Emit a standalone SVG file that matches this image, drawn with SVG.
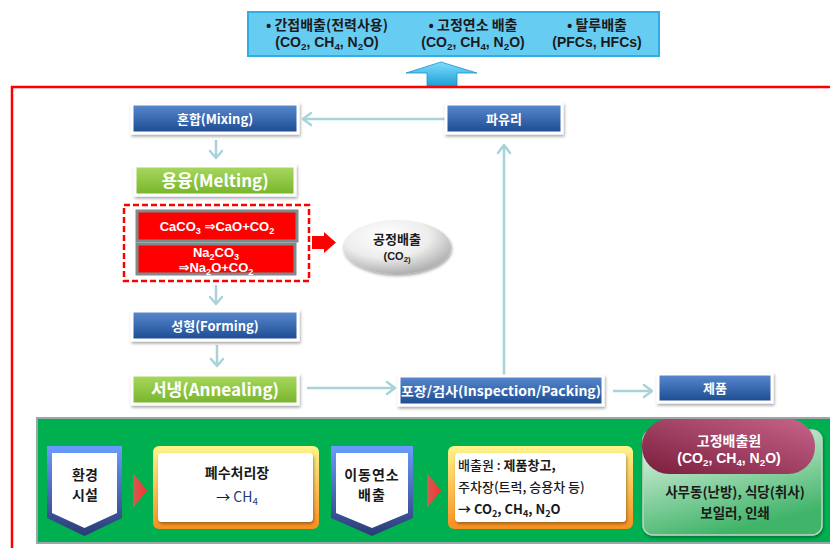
<svg xmlns="http://www.w3.org/2000/svg" width="830" height="548" viewBox="0 0 830 548">
<defs>
<style>
text{font-family:"Noto Sans CJK KR","Liberation Sans",sans-serif;}
text.lat{font-family:"Liberation Sans","DejaVu Sans",sans-serif;}
.wt{fill:#fff;font-weight:bold;text-anchor:middle;}
.dk{fill:#1a1a1a;font-weight:bold;text-anchor:middle;}
.s{font-size:70%;}
.conn{stroke:#A8D3D8;stroke-width:2.5;fill:none;}
.head{stroke:#A8D3D8;stroke-width:2.5;fill:none;stroke-linecap:round;stroke-linejoin:round;}
.bnode{fill:url(#gBlue);stroke:#fff;stroke-width:3;filter:url(#sh);}
.gnode{fill:url(#gGreen);stroke:#fff;stroke-width:3;filter:url(#sh);}
.rbox{fill:#FF0000;stroke:#7E8B8C;stroke-width:3;}
</style>
<linearGradient id="gBlue" x1="0" y1="0" x2="0" y2="1"><stop offset="0" stop-color="#5A8AD0"/><stop offset="1" stop-color="#1C4A90"/></linearGradient>
<linearGradient id="gGreen" x1="0" y1="0" x2="0" y2="1"><stop offset="0" stop-color="#A8D860"/><stop offset="1" stop-color="#78B42A"/></linearGradient>
<linearGradient id="gUp" x1="0" y1="0" x2="0" y2="1"><stop offset="0" stop-color="#7FDDFA"/><stop offset="1" stop-color="#1E9FD8"/></linearGradient>
<radialGradient id="gEll" cx="0.4" cy="0.3" r="0.8"><stop offset="0" stop-color="#ffffff"/><stop offset="0.5" stop-color="#EDEDED"/><stop offset="1" stop-color="#9C9C9C"/></radialGradient>
<linearGradient id="gPent" x1="0" y1="0" x2="0" y2="1"><stop offset="0" stop-color="#6A9CFF"/><stop offset="1" stop-color="#2A3B74"/></linearGradient>
<linearGradient id="gOr" x1="0" y1="0" x2="0" y2="1"><stop offset="0" stop-color="#FFF48C"/><stop offset="1" stop-color="#F7901E"/></linearGradient>
<linearGradient id="gTri" x1="0" y1="0" x2="1" y2="0"><stop offset="0" stop-color="#F05050" stop-opacity="0.85"/><stop offset="1" stop-color="#FF3030"/></linearGradient>
<linearGradient id="gFix" x1="0" y1="0" x2="0.4" y2="1"><stop offset="0" stop-color="#F2FAF2"/><stop offset="1" stop-color="#3FB468"/></linearGradient>
<linearGradient id="gMar" x1="0" y1="1" x2="1" y2="0"><stop offset="0" stop-color="#7A1D3C"/><stop offset="1" stop-color="#C7648A"/></linearGradient>
<filter id="sh" x="-10%" y="-20%" width="120%" height="150%"><feDropShadow dx="1" dy="2" stdDeviation="1.5" flood-color="#000" flood-opacity="0.35"/></filter>
</defs>
<rect width="830" height="548" fill="#fff"/>

<g id="top-emissions">
<rect x="248" y="12" width="411" height="44" fill="#66CCF2" stroke="#2EAEE4" stroke-width="2"/>
<text class="dk" x="327" y="30" font-size="14">• 간접배출(전력사용)</text>
<text class="dk lat" x="327" y="47" font-size="14">(CO<tspan class="s" dy="3">2</tspan><tspan dy="-3">, CH</tspan><tspan class="s" dy="3">4</tspan><tspan dy="-3">, N</tspan><tspan class="s" dy="3">2</tspan><tspan dy="-3">O)</tspan></text>
<text class="dk" x="473" y="30" font-size="14">• 고정연소 배출</text>
<text class="dk lat" x="473" y="47" font-size="14">(CO<tspan class="s" dy="3">2</tspan><tspan dy="-3">, CH</tspan><tspan class="s" dy="3">4</tspan><tspan dy="-3">, N</tspan><tspan class="s" dy="3">2</tspan><tspan dy="-3">O)</tspan></text>
<text class="dk" x="597" y="30" font-size="14">• 탈루배출</text>
<text class="dk lat" x="597" y="47" font-size="14">(PFCs, HFCs)</text>
</g>

<g id="up-arrow">
<path d="M406,73 L441,62 L477,73 L457,73 L457,86 L427,86 L427,73 Z" fill="url(#gUp)" stroke="#1A93CC" stroke-width="0.8"/>
</g>

<g id="frame">
<path d="M12,548 V87 H830" fill="none" stroke="#FF0000" stroke-width="2.5"/>
</g>

<g id="connectors">
<line class="conn" x1="445" y1="119" x2="303" y2="119"/>
<path class="head" d="M311,113 L303,119 L311,125"/>
<line class="conn" x1="216" y1="140" x2="216" y2="158"/>
<path class="head" d="M210,151 L216,158 L222,151"/>
<line class="conn" x1="216" y1="285" x2="216" y2="304"/>
<path class="head" d="M210,297 L216,304 L222,297"/>
<line class="conn" x1="217" y1="345" x2="217" y2="366"/>
<path class="head" d="M211,359 L217,366 L223,359"/>
<line class="conn" x1="307" y1="388" x2="395" y2="388"/>
<path class="head" d="M387,382 L395,388 L387,394"/>
<line class="conn" x1="613" y1="391" x2="652" y2="391"/>
<path class="head" d="M644,385 L652,391 L644,397"/>
<line class="conn" x1="504" y1="375" x2="504" y2="145"/>
<path class="head" d="M498,153 L504,145 L510,153"/>
<path d="M312,236 H324 V232 L336,242.5 L324,253 V249 H312 Z" fill="#FF0000"/>
</g>

<g id="mixing">
<rect class="bnode" x="132" y="104" width="166" height="29"/>
<text class="wt" x="215" y="123.5" font-size="13">혼합(Mixing)</text>
</g>
<g id="cullet">
<rect class="bnode" x="446" y="104" width="116" height="29"/>
<text class="wt" x="504" y="123.5" font-size="13">파유리</text>
</g>
<g id="melting">
<rect class="gnode" x="135" y="166" width="160" height="29"/>
<text class="wt" x="215" y="187" font-size="17">용융(Melting)</text>
</g>
<g id="reactions">
<rect x="124" y="205" width="185" height="76" fill="none" stroke="#FF0000" stroke-width="2.5" stroke-dasharray="6 3"/>
<rect class="rbox" x="137" y="211" width="160" height="30"/>
<text class="wt lat" x="217" y="231" font-size="13">CaCO<tspan class="s" dy="2.5">3</tspan><tspan dy="-2.5"> ⇒CaO+CO</tspan><tspan class="s" dy="2.5">2</tspan></text>
<rect class="rbox" x="137" y="244" width="158" height="30"/>
<text class="wt lat" x="216" y="257" font-size="13">Na<tspan class="s" dy="2.5">2</tspan><tspan dy="-2.5">CO</tspan><tspan class="s" dy="2.5">3</tspan></text>
<text class="wt lat" x="216" y="272" font-size="13">⇒Na<tspan class="s" dy="2.5">2</tspan><tspan dy="-2.5">O+CO</tspan><tspan class="s" dy="2.5">2</tspan></text>
</g>
<g id="process-emission">
<ellipse cx="397" cy="247" rx="54" ry="27" fill="url(#gEll)" filter="url(#sh)"/>
<text class="dk" x="397" y="244" font-size="13">공정배출</text>
<text class="dk lat" x="397" y="260" font-size="11">(CO<tspan class="s" dy="2">2)</tspan></text>
</g>
<g id="forming">
<rect class="bnode" x="132" y="311" width="166" height="29"/>
<text class="wt" x="215" y="330.5" font-size="13">성형(Forming)</text>
</g>
<g id="annealing">
<rect class="gnode" x="132" y="375" width="166" height="29"/>
<text class="wt" x="215" y="396" font-size="17">서냉(Annealing)</text>
</g>
<g id="packing">
<rect class="bnode" x="399" y="376" width="204" height="29"/>
<text class="wt" x="501" y="395.5" font-size="13" textLength="200" lengthAdjust="spacingAndGlyphs">포장/검사(Inspection/Packing)</text>
</g>
<g id="product">
<rect class="bnode" x="658" y="374" width="114" height="28"/>
<text class="wt" x="715" y="393" font-size="13">제품</text>
</g>

<g id="env-panel">
<rect x="37" y="418" width="800" height="125" fill="#00B050" stroke="#9AA6A8" stroke-width="2"/>
</g>
<g id="env-facility">
<path d="M47,446 H122 V518 L84.5,536 L47,518 Z" fill="url(#gPent)"/>
<path d="M52,453 H117 V513 L84.5,528 L52,513 Z" fill="#fff"/>
<text class="dk" font-size="14"><tspan x="85" y="480">환경</tspan><tspan x="85" y="500">시설</tspan></text>
</g>
<g id="tri1"><path d="M133,473 L147,490.5 L133,508 Z" fill="url(#gTri)"/></g>
<g id="wastewater">
<rect x="153" y="446" width="166" height="83" rx="6" fill="url(#gOr)"/>
<rect x="158" y="453" width="155" height="69" rx="4" fill="#fff" filter="url(#sh)"/>
<text class="dk" x="237" y="478" font-size="14">폐수처리장</text>
<text x="237" y="502" font-size="14" text-anchor="middle" fill="#1a1a1a">→  <tspan fill="#1F3B7A">CH</tspan><tspan class="s" fill="#1F3B7A" dy="3">4</tspan></text>
</g>
<g id="mobile">
<path d="M331,446 H413 V518 L372,536 L331,518 Z" fill="url(#gPent)"/>
<path d="M336,453 H408 V513 L372,528 L336,513 Z" fill="#fff"/>
<text class="dk" font-size="14" letter-spacing="1"><tspan x="372" y="480">이동연소</tspan><tspan x="372" y="500">배출</tspan></text>
</g>
<g id="tri2"><path d="M427,473 L441,490.5 L427,508 Z" fill="url(#gTri)"/></g>
<g id="sources">
<rect x="448" y="446" width="185" height="83" rx="6" fill="url(#gOr)"/>
<rect x="455" y="453" width="171" height="69" rx="4" fill="#fff" filter="url(#sh)"/>
<text x="458" y="470" font-size="13" fill="#1a1a1a" font-weight="500">배출원 : <tspan font-weight="bold">제품창고,</tspan></text>
<text x="458" y="492" font-size="13" fill="#1a1a1a" font-weight="500">주차장(트럭, 승용차 등)</text>
<text x="458" y="514" font-size="13" fill="#1a1a1a" font-weight="bold">→ CO<tspan class="s" dy="3">2</tspan><tspan dy="-3">, CH</tspan><tspan class="s" dy="3">4</tspan><tspan dy="-3">, N</tspan><tspan class="s" dy="3">2</tspan><tspan dy="-3">O</tspan></text>
</g>
<g id="fixed-source">
<rect x="643" y="430" width="179" height="105" rx="10" fill="url(#gFix)" stroke="#C8D0C8" stroke-width="1.5" filter="url(#sh)"/>
<rect x="642" y="419" width="173" height="55" rx="27" fill="url(#gMar)"/>
<text class="wt" x="729" y="446" font-size="14" font-weight="500">고정배출원</text>
<text class="wt lat" x="729" y="463" font-size="14">(CO<tspan class="s" dy="3">2</tspan><tspan dy="-3">, CH</tspan><tspan class="s" dy="3">4</tspan><tspan dy="-3">,  N</tspan><tspan class="s" dy="3">2</tspan><tspan dy="-3">O)</tspan></text>
<text class="dk" x="735" y="497" font-size="13.5" font-weight="500">사무동(난방), 식당(취사)</text>
<text class="dk" x="735" y="518" font-size="13.5" font-weight="500">보일러, 인쇄</text>
</g>
</svg>
